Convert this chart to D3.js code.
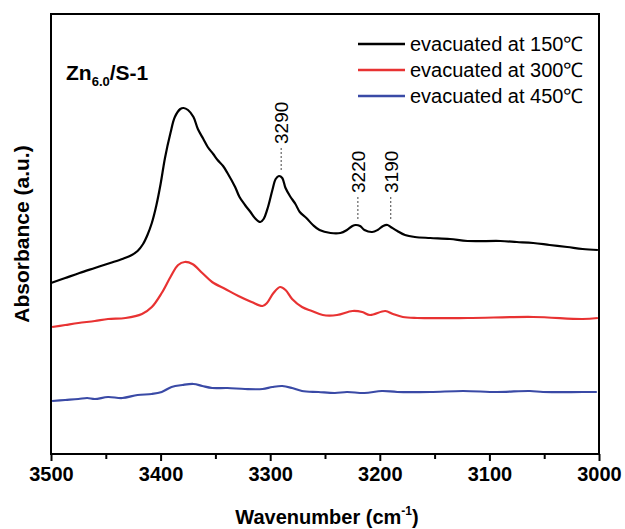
<!DOCTYPE html>
<html><head><meta charset="utf-8">
<script src="https://cdn.jsdelivr.net/npm/d3@7"></script>
<style>body{margin:0;background:#fff}svg{display:block;font-family:"Liberation Sans",Arial,sans-serif}</style>
</head><body><svg id="c" width="625" height="529"></svg>
<script>
// ---- data ----
const waveBlack = [3500,3487,3474,3460,3446,3435,3428,3421,3416,3412,3408,3404,3400,3396,3391,3387,3382,3379,3375,3370,3366,3361,3357,3352,3348,3343,3339,3332,3328,3323,3318,3314,3309,3306,3302,3298,3295,3292,3289,3286,3282,3277,3273,3267,3261,3255,3245,3236,3230,3225,3222,3218,3214,3207,3202,3197,3193,3190,3184,3177,3168,3154,3136,3120,3090,3075,3060,3045,3029,3015,3001];
const absBlack = [1.71,1.76,1.81,1.86,1.91,1.95,1.98,2.03,2.10,2.19,2.31,2.48,2.70,2.96,3.21,3.37,3.45,3.46,3.44,3.37,3.25,3.15,3.07,3.00,2.94,2.88,2.81,2.67,2.57,2.49,2.42,2.36,2.32,2.35,2.47,2.64,2.75,2.78,2.76,2.66,2.58,2.50,2.42,2.36,2.29,2.24,2.21,2.21,2.24,2.28,2.29,2.28,2.24,2.22,2.24,2.28,2.29,2.27,2.23,2.19,2.17,2.16,2.15,2.13,2.13,2.12,2.11,2.09,2.07,2.05,2.04];
const waveRed = [3499,3487,3475,3460,3448,3432,3417,3408,3399,3391,3384,3378,3371,3362,3353,3341,3329,3317,3307,3303,3297,3291,3286,3280,3271,3262,3252,3239,3225,3216,3209,3195,3188,3179,3166,3120,3060,3015,3001];
const absRed = [1.27,1.29,1.31,1.33,1.35,1.36,1.40,1.47,1.61,1.77,1.89,1.92,1.90,1.81,1.72,1.65,1.58,1.52,1.48,1.51,1.61,1.67,1.64,1.55,1.47,1.43,1.39,1.39,1.43,1.42,1.39,1.43,1.40,1.37,1.36,1.36,1.37,1.35,1.36];
const waveBlue = [3499,3487,3475,3467,3460,3448,3435,3421,3408,3399,3390,3380,3370,3362,3353,3339,3323,3307,3298,3289,3280,3271,3256,3241,3230,3214,3198,3184,3154,3124,3093,3063,3051,3015,3002];
const absBlue = [0.53,0.54,0.55,0.56,0.55,0.57,0.56,0.59,0.60,0.62,0.67,0.69,0.70,0.68,0.66,0.66,0.65,0.65,0.67,0.68,0.66,0.63,0.62,0.61,0.62,0.61,0.63,0.62,0.62,0.63,0.62,0.63,0.62,0.62,0.62];
const seriesNames = ["evacuated at 150\u2103","evacuated at 300\u2103","evacuated at 450\u2103"];
const seriesColors = ["#000000","#e83232","#3a4aa6"];
const xTicks = [3500,3400,3300,3200,3100,3000];
const xMinorTicks = [3450,3350,3250,3150,3050];
const peakLabels = [3290,3220,3190];
const peakLabelTops = [2.78,2.29,2.29];

// ---- layout ----
const svg = d3.select("#c");
const L=51,R=599,T=14,B=454;
const x = d3.scaleLinear().domain([3500,3000]).range([L,R]);
const y = d3.scaleLinear().domain([0,4.4]).range([B,T]);

const series = [
  {w:waveBlack,a:absBlack},
  {w:waveRed,a:absRed},
  {w:waveBlue,a:absBlue}
];
const line = d3.line().x(d=>x(d[0])).y(d=>y(d[1])).curve(d3.curveCatmullRom.alpha(0.5));
series.forEach((s,i)=>{
  svg.append("path").attr("d",line(s.w.map((w,j)=>[w,s.a[j]])))
    .attr("fill","none").attr("stroke",seriesColors[i]).attr("stroke-width",2.2)
    .attr("stroke-linejoin","round");
});

// frame
svg.append("rect").attr("x",L).attr("y",T).attr("width",R-L).attr("height",B-T)
  .attr("fill","none").attr("stroke","#000").attr("stroke-width",2);

// x axis
const ax = svg.append("g").attr("transform",`translate(0,${B})`)
  .call(d3.axisBottom(x).tickValues(xTicks).tickFormat(d3.format("d")).tickSize(7).tickSizeOuter(0));
ax.select(".domain").remove();
ax.selectAll(".tick line").attr("stroke-width",2);
ax.selectAll("text").attr("font-size",20).attr("font-weight","bold").attr("fill","#000").attr("dy","0.85em");
const axm = svg.append("g").attr("transform",`translate(0,${B})`)
  .call(d3.axisBottom(x).tickValues(xMinorTicks).tickFormat("").tickSize(5).tickSizeOuter(0));
axm.select(".domain").remove();
axm.selectAll(".tick line").attr("stroke-width",2);

// axis titles
const xt = svg.append("text").attr("x",(L+R)/2+2).attr("y",524).attr("text-anchor","middle")
  .attr("font-size",20).attr("font-weight","bold");
xt.append("tspan").text("Wavenumber (cm");
xt.append("tspan").text("-1").attr("font-size",12).attr("dy",-9);
xt.append("tspan").text(")").attr("dy",9);
svg.append("text").attr("transform",`translate(29,${(T+B)/2}) rotate(-90)`)
  .attr("text-anchor","middle").attr("font-size",21).attr("font-weight","bold").text("Absorbance (a.u.)");

// sample label
const st = svg.append("text").attr("x",66).attr("y",80).attr("font-size",21).attr("font-weight","bold");
st.append("tspan").text("Zn");
st.append("tspan").text("6.0").attr("font-size",13).attr("dy",6);
st.append("tspan").text("/S-1").attr("dy",-6);

// peak annotations
peakLabels.forEach((p,i)=>{
  const px = x(p), ytop = y(peakLabelTops[i]);
  svg.append("line").attr("x1",px).attr("x2",px).attr("y1",ytop-6).attr("y2",ytop-29)
    .attr("stroke","#444").attr("stroke-width",1).attr("stroke-dasharray","2,2");
  svg.append("text").attr("transform",`translate(${px+7},${ytop-32}) rotate(-90)`)
    .attr("font-size",19).attr("text-anchor","start").text(p);
});

// legend
seriesNames.forEach((n,i)=>{
  const ly = 44+i*26;
  svg.append("line").attr("x1",358).attr("x2",405).attr("y1",ly).attr("y2",ly)
    .attr("stroke",seriesColors[i]).attr("stroke-width",2.4);
  svg.append("text").attr("x",410).attr("y",ly+7).attr("font-size",20).text(n);
});
</script></body></html>
